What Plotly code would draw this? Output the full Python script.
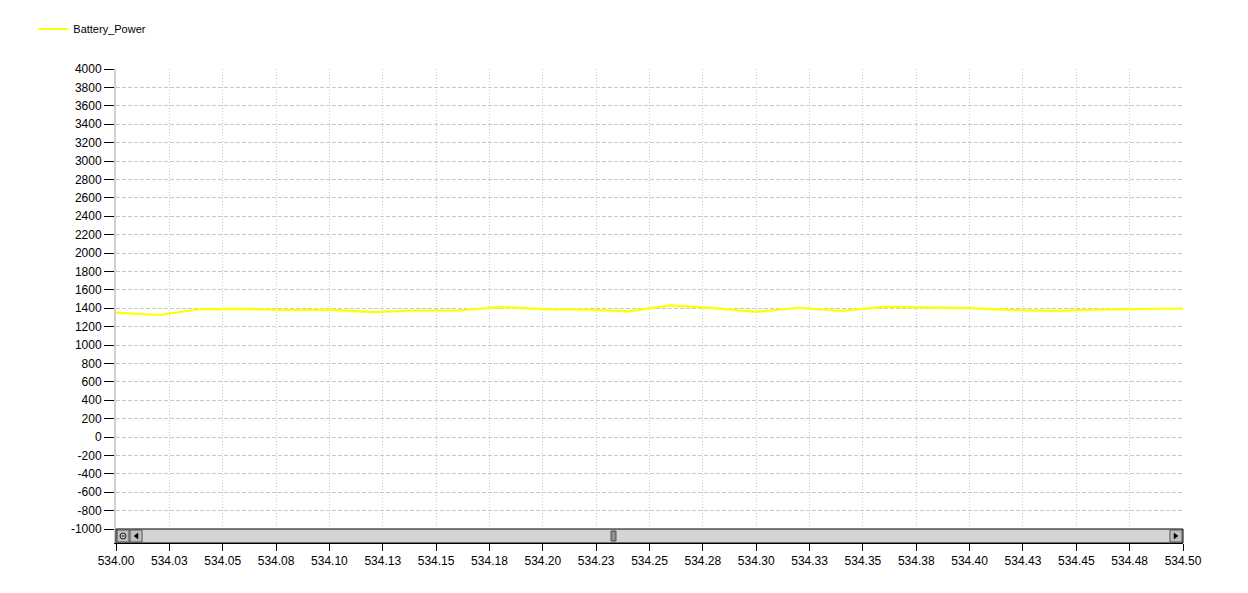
import plotly.graph_objects as go

series_name = "Battery_Power"
x_values = [534.00, 534.02, 534.04, 534.06, 534.08, 534.10, 534.12, 534.14, 534.16, 534.18,
            534.20, 534.22, 534.24, 534.26, 534.28, 534.30, 534.32, 534.34, 534.36, 534.38,
            534.40, 534.42, 534.44, 534.46, 534.48, 534.50]
y_values = [1351, 1326, 1391, 1393, 1380, 1385, 1358, 1375, 1375, 1412,
            1390, 1385, 1365, 1430, 1400, 1360, 1405, 1370, 1415, 1405,
            1400, 1380, 1370, 1385, 1390, 1397]

x_tickvals = [534.000, 534.025, 534.050, 534.075, 534.100, 534.125, 534.150, 534.175, 534.200,
              534.225, 534.250, 534.275, 534.300, 534.325, 534.350, 534.375, 534.400, 534.425,
              534.450, 534.475, 534.500]
x_ticktext = ["534.00", "534.03", "534.05", "534.08", "534.10", "534.13", "534.15", "534.18",
              "534.20", "534.23", "534.25", "534.28", "534.30", "534.33", "534.35", "534.38",
              "534.40", "534.43", "534.45", "534.48", "534.50"]
y_tickvals = [-1000, -800, -600, -400, -200, 0, 200, 400, 600, 800, 1000, 1200, 1400,
              1600, 1800, 2000, 2200, 2400, 2600, 2800, 3000, 3200, 3400, 3600, 3800, 4000]
y_ticktext = ["-1000", "-800", "-600", "-400", "-200", "0", "200", "400", "600", "800",
              "1000", "1200", "1400", "1600", "1800", "2000", "2200", "2400", "2600",
              "2800", "3000", "3200", "3400", "3600", "3800", "4000"]

# page has an 8px body margin; figure coords = page coords - 8
OFF = 8
W, H = 1248 - 2 * OFF, 593 - 2 * OFF
PL, PR, PT, PB = 116, 1183, 69, 543   # plot area in page pixels
L, T = PL - OFF, PT - OFF
R = W - (PR - OFF)
B = H - (PB - OFF)
PW = PR - PL
YMIN_VIS, YMAX = -1000, 4000
px_per_unit = (529 - 69) / (YMAX - YMIN_VIS)
YMIN = YMIN_VIS - (543 - 529) / px_per_unit

def px(p):
    return (p - PL) / PW

def py(p):
    return YMAX - (p - PT) / px_per_unit

fig = go.Figure()
fig.add_trace(go.Scatter(x=x_values, y=y_values, mode="lines", name=series_name,
                         line=dict(color="#FFFF00", width=2.2), showlegend=True))

shapes = []
shapes.append(dict(type="rect", xref="paper", yref="y", x0=0, x1=1, y0=py(543), y1=py(529),
                   fillcolor="#d4d4d4", line=dict(color="#000000", width=1), layer="above"))
for a, b in [(117, 129), (130, 142)]:
    shapes.append(dict(type="rect", xref="paper", yref="y", x0=px(a), x1=px(b), y0=py(542), y1=py(530),
                       fillcolor="#c0c0c0", line=dict(color="#505050", width=1), layer="above"))
shapes.append(dict(type="rect", xref="paper", yref="y", x0=px(1170), x1=px(1182), y0=py(542), y1=py(530),
                   fillcolor="#c0c0c0", line=dict(color="#505050", width=1), layer="above"))
shapes.append(dict(type="rect", xref="paper", yref="y", x0=px(611), x1=px(616), y0=py(541), y1=py(531),
                   fillcolor="#909090", line=dict(color="#505050", width=1), layer="above"))
shapes.append(dict(type="circle", xref="paper", yref="y", x0=px(120), x1=px(126), y0=py(539), y1=py(533),
                   line=dict(color="#202020", width=1), layer="above"))
shapes.append(dict(type="line", xref="paper", yref="y", x0=px(121.5), x1=px(124.5), y0=py(536), y1=py(536),
                   line=dict(color="#202020", width=1), layer="above"))
shapes.append(dict(type="path", xref="paper", yref="y",
                   path=f"M {px(134)} {py(536)} L {px(138)} {py(533)} L {px(138)} {py(539)} Z",
                   fillcolor="#000000", line=dict(color="#000000", width=0.5), layer="above"))
shapes.append(dict(type="path", xref="paper", yref="y",
                   path=f"M {px(1178)} {py(536)} L {px(1174)} {py(533)} L {px(1174)} {py(539)} Z",
                   fillcolor="#000000", line=dict(color="#000000", width=0.5), layer="above"))

fig.update_layout(
    width=W, height=H,
    margin=dict(l=L, r=R, t=T, b=B, pad=0, autoexpand=False),
    paper_bgcolor="white", plot_bgcolor="white",
    font=dict(family="Liberation Sans, Arial, sans-serif", size=12, color="#000000"),
    legend=dict(x=-0.0775, y=1.115, xanchor="left", yanchor="top", orientation="h",
                font=dict(size=11), itemwidth=30, bgcolor="rgba(0,0,0,0)"),
    xaxis=dict(range=[534.0, 534.5], tickmode="array", tickvals=x_tickvals, ticktext=x_ticktext,
               showgrid=True, gridcolor="#c8c8c8", griddash="1px,2px", gridwidth=1,
               ticks="outside", ticklen=7, tickcolor="#000000", showline=True, linecolor="#000000",
               linewidth=1, zeroline=False, tickfont=dict(size=12)),
    yaxis=dict(range=[YMIN, YMAX], tickmode="array", tickvals=y_tickvals, ticktext=y_ticktext,
               showgrid=True, gridcolor="#c8c8c8", griddash="4px,2px", gridwidth=1,
               ticks="outside", ticklen=10, tickcolor="#000000", showline=True, linecolor="#d0d0d0",
               linewidth=2, zeroline=False, tickfont=dict(size=12)),
    shapes=shapes,
)

fig.write_html("out.html")
